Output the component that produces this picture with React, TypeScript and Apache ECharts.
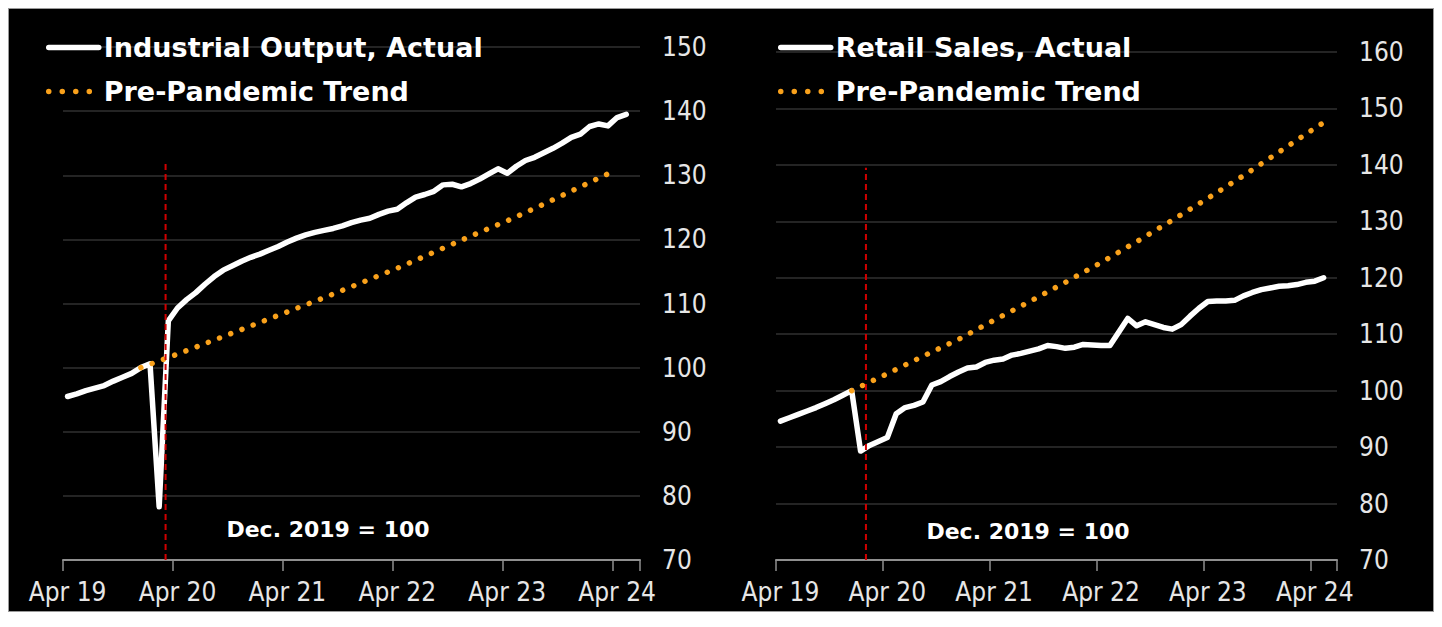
import React, { useEffect, useRef } from 'react';
import * as echarts from 'echarts';

// Monthly categories, Apr 2019 .. Jun 2024
const categories = [
  'Apr 19', 'May 19', 'Jun 19', 'Jul 19', 'Aug 19', 'Sep 19', 'Oct 19', 'Nov 19', 'Dec 19',
  'Jan 20', 'Feb 20', 'Mar 20', 'Apr 20', 'May 20', 'Jun 20', 'Jul 20', 'Aug 20', 'Sep 20', 'Oct 20', 'Nov 20', 'Dec 20',
  'Jan 21', 'Feb 21', 'Mar 21', 'Apr 21', 'May 21', 'Jun 21', 'Jul 21', 'Aug 21', 'Sep 21', 'Oct 21', 'Nov 21', 'Dec 21',
  'Jan 22', 'Feb 22', 'Mar 22', 'Apr 22', 'May 22', 'Jun 22', 'Jul 22', 'Aug 22', 'Sep 22', 'Oct 22', 'Nov 22', 'Dec 22',
  'Jan 23', 'Feb 23', 'Mar 23', 'Apr 23', 'May 23', 'Jun 23', 'Jul 23', 'Aug 23', 'Sep 23', 'Oct 23', 'Nov 23', 'Dec 23',
  'Jan 24', 'Feb 24', 'Mar 24', 'Apr 24', 'May 24', 'Jun 24',
];

// Industrial output, actual (Dec 2019 = 100)
const ioActual = [
  95.5, 95.9, 96.4, 96.8, 97.2, 97.9, 98.5, 99.1, 100.0,
  100.6, 78.3, 107.3, 109.3, 110.6, 111.7, 113.0, 114.2, 115.2, 115.9, 116.6, 117.2,
  117.7, 118.3, 118.9, 119.6, 120.2, 120.7, 121.1, 121.4, 121.7, 122.1, 122.6, 123.0,
  123.3, 123.9, 124.4, 124.7, 125.7, 126.6, 127.0, 127.5, 128.5, 128.6, 128.2, 128.7,
  129.4, 130.2, 131.0, 130.3, 131.4, 132.3, 132.8, 133.5, 134.2, 135.0, 135.9, 136.4,
  137.6, 138.0, 137.7, 139.0, 139.5, null,
];

// Retail sales, actual (Dec 2019 = 100)
const rsActual = [
  94.6, 95.2, 95.8, 96.4, 97.0, 97.7, 98.4, 99.2, 100.0,
  89.3, 90.3, 91.0, 91.7, 95.9, 97.0, 97.4, 98.0, 101.0, 101.6, 102.5, 103.3,
  104.0, 104.2, 105.0, 105.4, 105.6, 106.3, 106.6, 107.0, 107.4, 108.0, 107.8, 107.5,
  107.7, 108.2, 108.1, 108.0, 108.0, 110.4, 112.8, 111.5, 112.2, 111.7, 111.2, 110.9,
  111.7, 113.2, 114.6, 115.8, 115.9, 115.9, 116.0, 116.8, 117.4, 117.9, 118.2, 118.5,
  118.6, 118.8, 119.2, 119.4, 120.0, null,
];

// Pre-pandemic trend readings
const ioTrendMonths = ['Dec 19', 'Apr 20', 'Aug 20', 'Dec 20', 'Apr 21', 'Aug 21', 'Dec 21', 'Apr 22', 'Aug 22', 'Dec 22', 'Apr 23', 'Aug 23', 'Dec 23', 'Apr 24'];
const ioTrendValues = [100.0, 102.1, 104.3, 106.5, 108.7, 110.9, 113.2, 115.5, 118.0, 120.5, 122.9, 125.5, 128.2, 130.9];
const rsTrendMonths = ['Dec 19', 'Apr 20', 'Aug 20', 'Dec 20', 'Apr 21', 'Aug 21', 'Dec 21', 'Apr 22', 'Aug 22', 'Dec 22', 'Apr 23', 'Aug 23', 'Dec 23', 'Apr 24', 'May 24'];
const rsTrendValues = [100.0, 103.0, 106.1, 109.1, 112.5, 115.8, 119.2, 122.7, 126.4, 130.2, 134.1, 138.1, 142.3, 146.5, 147.5];

// Pandemic marker (months since start of Apr 2019) and its top value
const ioShock = { month: 11.2, top: 132.2 };
const rsShock = { month: 10.1, top: 139.5 };

const yTicksLeft = { min: 70, max: 150, step: 10 };
const yTicksRight = { min: 70, max: 160, step: 10 };

const WHITE = '#ffffff';
const ORANGE = '#f9a11b';
const RED = '#d00000';
const TICK_FONT = "'DejaVu Sans Condensed', 'DejaVu Sans', sans-serif";
const BOLD_FONT = "'DejaVu Sans', sans-serif";

function sparse(months: string[], values: number[]) {
  return categories.map((c) => {
    const k = months.indexOf(c);
    return k >= 0 ? values[k] : null;
  });
}

export default function App() {
  const ref = useRef<HTMLDivElement>(null);
  useEffect(() => {
    if (!ref.current) return;
    const chart = echarts.init(ref.current, undefined, { renderer: 'svg' });

    const grids = [
      { left: 54, right: 793, top: 38, bottom: 51 },
      { left: 767, right: 96, top: 43, bottom: 51 },
    ];
    const mkX = (gi: number) => ({
      type: 'category',
      gridIndex: gi,
      data: categories,
      boundaryGap: true,
      axisLine: { show: true, lineStyle: { color: '#8f8f8f', width: 2 } },
      axisTick: {
        show: true,
        interval: (i: number) => i % 12 === 0,
        length: 11,
        lineStyle: { color: '#8f8f8f', width: 1.5 },
      },
      axisLabel: {
        interval: (i: number) => i % 12 === 0,
        color: '#e6e6e6',
        fontSize: 26,
        fontFamily: TICK_FONT,
        margin: 19,
      },
      splitLine: { show: false },
    });
    const mkXHidden = (gi: number) => ({
      type: 'value',
      gridIndex: gi,
      min: 0,
      max: categories.length,
      show: false,
      splitLine: { show: false },
    });
    const mkY = (gi: number, t: { min: number; max: number; step: number }) => ({
      type: 'value',
      gridIndex: gi,
      position: 'right',
      min: t.min,
      max: t.max,
      interval: t.step,
      axisLine: { show: false },
      axisTick: { show: false },
      axisLabel: { color: '#e6e6e6', fontSize: 26, fontFamily: TICK_FONT, margin: 22 },
      splitLine: { show: true, lineStyle: { color: '#303030', width: 1.5 } },
    });

    const actualStyle = { color: WHITE, width: 5.5, cap: 'round', join: 'round' };
    const trendStyle = { color: ORANGE, width: 5.5, type: [0.01, 12], cap: 'round' };
    const shockStyle = { color: RED, width: 2, type: [6, 4] };

    const legendCommon = {
      orient: 'vertical',
      top: 20,
      itemWidth: 50,
      itemHeight: 14,
      itemGap: 17,
      selectedMode: false,
      textStyle: { color: WHITE, fontSize: 27, fontWeight: 'bold', fontFamily: BOLD_FONT },
      lineStyle: { width: 5.5, cap: 'round' },
      itemStyle: { opacity: 0 },
    };

    chart.setOption({
      animation: false,
      backgroundColor: '#000000',
      grid: grids,
      xAxis: [mkX(0), mkX(1), mkXHidden(0), mkXHidden(1)],
      yAxis: [mkY(0, yTicksLeft), mkY(1, yTicksRight)],
      legend: [
        {
          ...legendCommon,
          left: 32,
          data: [
            { name: 'Industrial Output, Actual' },
            { name: 'Pre-Pandemic Trend', lineStyle: { type: [0.01, 13.5] } },
          ],
        },
        {
          ...legendCommon,
          left: 764,
          data: [
            { name: 'Retail Sales, Actual' },
            { name: 'Pre-Pandemic Trend', lineStyle: { type: [0.01, 13.5] } },
          ],
        },
      ],
      series: [
        {
          name: 'Industrial Output, Actual',
          type: 'line',
          xAxisIndex: 0,
          yAxisIndex: 0,
          data: ioActual,
          symbol: 'none',
          lineStyle: actualStyle,
          itemStyle: { color: WHITE },
        },
        {
          name: 'Pre-Pandemic Trend',
          type: 'line',
          xAxisIndex: 0,
          yAxisIndex: 0,
          data: sparse(ioTrendMonths, ioTrendValues),
          connectNulls: true,
          symbol: 'none',
          lineStyle: trendStyle,
          itemStyle: { color: ORANGE },
        },
        {
          name: 'shock-left',
          type: 'line',
          xAxisIndex: 2,
          yAxisIndex: 0,
          data: [[ioShock.month, yTicksLeft.min], [ioShock.month, ioShock.top]],
          symbol: 'none',
          lineStyle: shockStyle,
          silent: true,
        },
        {
          name: 'Retail Sales, Actual',
          type: 'line',
          xAxisIndex: 1,
          yAxisIndex: 1,
          data: rsActual,
          symbol: 'none',
          lineStyle: actualStyle,
          itemStyle: { color: WHITE },
        },
        {
          name: 'Pre-Pandemic Trend',
          type: 'line',
          xAxisIndex: 1,
          yAxisIndex: 1,
          data: sparse(rsTrendMonths, rsTrendValues),
          connectNulls: true,
          symbol: 'none',
          lineStyle: trendStyle,
          itemStyle: { color: ORANGE },
        },
        {
          name: 'shock-right',
          type: 'line',
          xAxisIndex: 3,
          yAxisIndex: 1,
          data: [[rsShock.month, yTicksRight.min], [rsShock.month, rsShock.top]],
          symbol: 'none',
          lineStyle: shockStyle,
          silent: true,
        },
      ],
      graphic: [
        {
          type: 'text',
          x: 319,
          y: 520,
          style: { text: 'Dec. 2019 = 100', fill: WHITE, font: `bold 22px ${BOLD_FONT}`, textAlign: 'center', textVerticalAlign: 'middle' },
        },
        {
          type: 'text',
          x: 1019,
          y: 522,
          style: { text: 'Dec. 2019 = 100', fill: WHITE, font: `bold 22px ${BOLD_FONT}`, textAlign: 'center', textVerticalAlign: 'middle' },
        },
      ],
    });
    return () => chart.dispose();
  }, []);

  return (
    <div style={{ width: 1424, height: 602, border: '1px solid #9a9a9a', background: '#000' }}>
      <div ref={ref} style={{ width: 1424, height: 602 }} />
    </div>
  );
}
